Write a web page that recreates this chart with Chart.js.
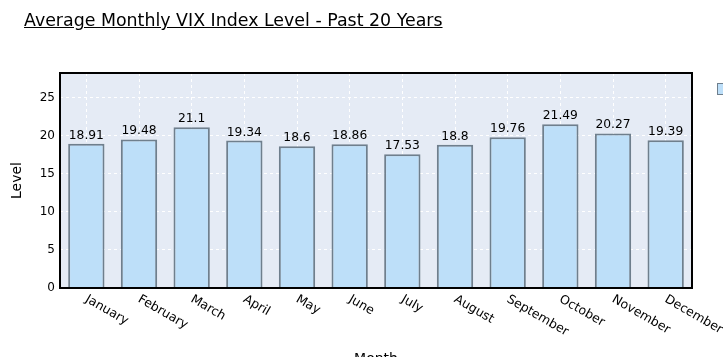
<!DOCTYPE html>
<html><head><meta charset="utf-8">
<script src="https://cdn.jsdelivr.net/npm/chart.js@4"></script>
<style>
html,body{margin:0;padding:0;background:#fff;overflow:hidden}
#wrap{position:relative;width:723px;height:357px}
#title{position:absolute;left:24px;top:11px;font-family:"DejaVu Sans";font-size:17.4px;text-decoration:underline;color:#000;white-space:nowrap;line-height:19px}
canvas{position:absolute;left:0;top:0}
</style></head><body>
<div id="wrap"><canvas id="c" width="723" height="357" style="width:723px;height:357px"></canvas><div id="title">Average Monthly VIX Index Level - Past 20 Years</div></div>
<script>
const months = ["January","February","March","April","May","June","July","August","September","October","November","December"];
const levels = [18.91,19.48,21.1,19.34,18.6,18.86,17.53,18.8,19.76,21.49,20.27,19.39];
const yTickValues = [0,5,10,15,20,25];
const seriesName = "VIX";

const FONT = '"DejaVu Sans", sans-serif';
const BAR_FILL = '#bddff9';
const BAR_EDGE = '#6f7f8d';
const PLOT_BG = '#e5ebf5';

const decor = {
  id: 'decor',
  beforeDraw(chart) {
    const a = chart.chartArea, ctx = chart.ctx;
    ctx.save();
    ctx.fillStyle = PLOT_BG;
    ctx.fillRect(a.left, a.top, a.right - a.left, a.bottom - a.top);
    ctx.restore();
  },
  afterDatasetsDraw(chart) {
    const a = chart.chartArea, ctx = chart.ctx;
    const meta = chart.getDatasetMeta(0);
    ctx.save();
    // value labels
    ctx.fillStyle = '#000';
    ctx.font = '12.3px ' + FONT;
    ctx.textAlign = 'center';
    ctx.textBaseline = 'alphabetic';
    meta.data.forEach((bar, i) => {
      ctx.fillText(String(levels[i]), bar.x, bar.y - 5);
    });
    // plot frame
    ctx.strokeStyle = '#000';
    ctx.lineWidth = 2;
    ctx.strokeRect(a.left, a.top, a.right - a.left, a.bottom - a.top);
    // rotated month labels
    const xs = chart.scales.x;
    ctx.font = '12.5px ' + FONT;
    ctx.textAlign = 'left';
    ctx.textBaseline = 'top';
    months.forEach((m, i) => {
      const px = xs.getPixelForTick(i);
      ctx.save();
      ctx.translate(px + 3, a.bottom + 5);
      ctx.rotate(30 * Math.PI / 180);
      ctx.fillText(m, 0, 0);
      ctx.restore();
    });
    // legend swatch (cut off at the right edge)
    ctx.fillStyle = BAR_FILL;
    ctx.strokeStyle = BAR_EDGE;
    ctx.lineWidth = 1;
    ctx.fillRect(a.right + 25.5, a.top + 10.5, 12, 11);
    ctx.strokeRect(a.right + 25.5, a.top + 10.5, 12, 11);
    ctx.restore();
  }
};

new Chart(document.getElementById('c'), {
  type: 'bar',
  data: {
    labels: months,
    datasets: [{
      label: seriesName,
      data: levels,
      backgroundColor: BAR_FILL,
      borderColor: BAR_EDGE,
      borderWidth: 2,
      barPercentage: 0.69,
      categoryPercentage: 1.0
    }]
  },
  options: {
    responsive: false,
    animation: false,
    devicePixelRatio: 1,
    layout: { padding: { top: 73, right: 31, left: 0, bottom: 0 } },
    plugins: { legend: { display: false }, tooltip: { enabled: false }, title: { display: false } },
    scales: {
      x: {
        type: 'category',
        offset: true,
        grid: { offset: false, color: '#ffffff', lineWidth: 1, drawTicks: false },
        border: { display: false, dash: [3, 3] },
        ticks: { display: false },
        title: { display: true, text: 'Month', color: '#000', font: { family: FONT, size: 14, lineHeight: 1 }, padding: { top: 0, bottom: -9 } },
        afterFit(s) { s.height = 69; }
      },
      y: {
        min: 0,
        max: 28.2,
        afterBuildTicks(s) { s.ticks = yTickValues.map(v => ({ value: v })); },
        grid: { color: '#ffffff', lineWidth: 1, drawTicks: false },
        border: { display: false, dash: [3, 3] },
        ticks: { color: '#000', font: { family: FONT, size: 12 }, padding: 5 },
        title: { display: true, text: 'Level', color: '#000', font: { family: FONT, size: 14, lineHeight: 1 }, padding: { top: 10, bottom: 0 } },
        afterFit(s) { s.width = 60; }
      }
    }
  },
  plugins: [decor]
});
</script>
</body></html>
